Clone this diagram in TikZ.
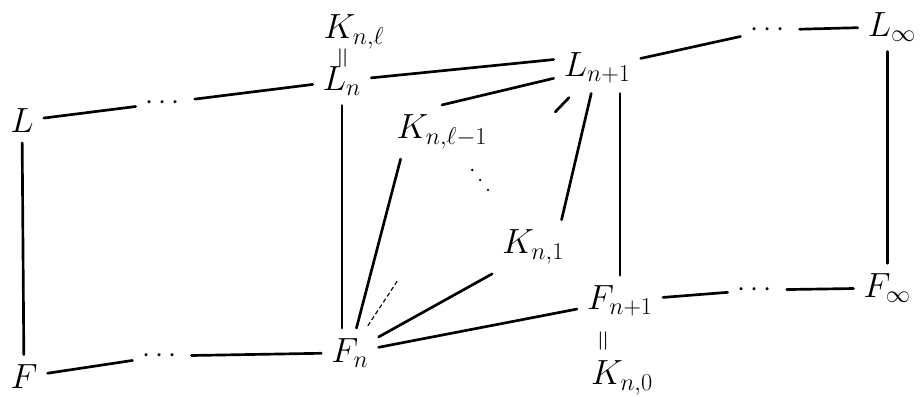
\documentclass[tikz,border=0pt]{standalone}
\usepackage{amsmath}
\usetikzlibrary{positioning,calc}

\begin{document}
\begin{tikzpicture}[
    fld/.style={font=\fontsize{24}{28}\selectfont, inner sep=7pt},
    eqs/.style={font=\fontsize{22}{26}\selectfont, rotate=90, inner sep=0pt},
    dts/.style={font=\huge, inner sep=7pt},
    link/.style={line width=1.9pt, line cap=round},
  ]
    \useasboundingbox (0,0) rectangle (23.1,9.9);

    % fields
    \node[fld] (L)    at (0.55, 6.88) {$L$};
    \node[fld] (F)    at (0.60, 0.48) {$F$};
    \node[fld] (Ln)   at (8.55, 7.88) {$L_n$};
    \node[eqs] (eqA)  at (8.62, 8.45) {$=$};
    \node[fld] (Knl)  at (8.85, 9.10) {$K_{n,\ell}$};
    \node[fld] (Ln1)  at (14.93,8.20) {$L_{n+1}$};
    \node[fld] (Linf) at (22.30,9.23) {$L_\infty$};
    \node[fld] (Kl1)  at (11.05,6.60) {$K_{n,\ell-1}$};
    \node[fld] (K1)   at (13.33,3.73) {$K_{n,1}$};
    \node[fld] (Fn)   at (8.75, 1.08) {$F_n$};
    \node[fld] (Fn1)  at (15.50,2.38) {$F_{n+1}$};
    \node[eqs] (eqB)  at (15.13,1.38) {$=$};
    \node[fld] (Kn0)  at (15.55,0.45) {$K_{n,0}$};
    \node[fld] (Finf) at (22.18,2.70) {$F_\infty$};

    % dots in the long rows
    \node[dts] (dLa) at (4.13, 7.33) {$\cdots$};
    \node[dts] (dFa) at (4.05, 1.00) {$\cdots$};
    \node[dts] (dLb) at (19.25,9.15) {$\cdots$};
    \node[dts] (dFb) at (18.93,2.65) {$\cdots$};

    \coordinate (fa) at (9.95, 2.90);
    \coordinate (la) at (13.88,7.10);

    % rows
    \draw[link] (L) -- (dLa);
    \draw[link] (dLa) -- (Ln);
    \draw[link] (Ln) -- ([yshift=6pt]Ln1.west);
    \draw[link] (Ln1) -- (dLb);
    \draw[link] (dLb) -- (Linf);
    \draw[link] (F) -- (dFa);
    \draw[link] (dFa) -- (Fn);
    \draw[link] (Fn) -- (Fn1);
    \draw[link] (Fn1) -- (dFb);
    \draw[link] (dFb) -- (Finf);

    % columns
    \draw[link] (L) -- (F);
    \draw[link] (Ln) -- (Ln |- Fn.north);
    \draw[link] (Fn1.north |- Ln1.south) -- (Fn1.north);
    \draw[link] (Finf.north |- Linf.south) -- (Finf.north);

    % the tower between F_n and L_{n+1}
    \draw[link] (Fn) -- ([xshift=10pt]Kl1.south west);
    \draw[link] (Fn) -- (K1.south west);
    \draw[link] (Kl1.north) -- (Ln1);
    \draw[link] ([xshift=-9pt]K1.north east) -- (Ln1);
    \draw[link, dash pattern=on 0pt off 9pt, shorten <=10pt, shorten >=22pt] (Kl1) -- (K1);
    \draw[line width=0.8pt, densely dashed, shorten <=2pt] (Fn) -- (fa);
    \draw[link, shorten <=4pt] (Ln1) -- (la);
\end{tikzpicture}
\end{document}
